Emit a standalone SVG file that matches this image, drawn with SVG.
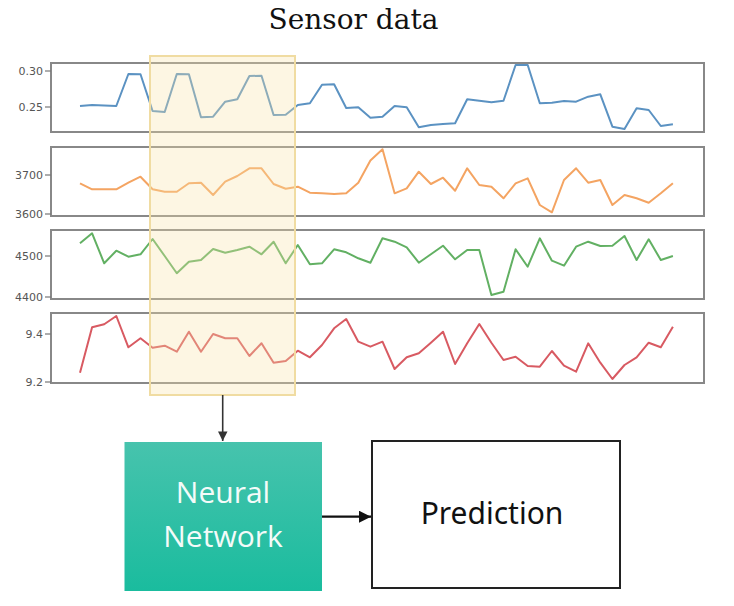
<svg xmlns="http://www.w3.org/2000/svg" width="734" height="606" viewBox="0 0 734 606">
<defs>
<style>
.frame{fill:none;stroke:#888;stroke-width:2}
.tick{stroke:#777;stroke-width:1.2}
.tl{font-family:"DejaVu Sans",sans-serif;font-size:11px;fill:#555;text-anchor:end}
.ser{fill:none;stroke-width:2;stroke-linejoin:round}
.conn{stroke:#111;stroke-width:2.2;fill:none}
</style>
<linearGradient id="teal" x1="0" y1="0" x2="0" y2="1">
<stop offset="0" stop-color="#47c3ad"/>
<stop offset="1" stop-color="#1abc9e"/>
</linearGradient>
<marker id="ah" viewBox="0 0 10 10" refX="10" refY="5" markerWidth="5.5" markerHeight="5.5" orient="auto" markerUnits="strokeWidth">
<path d="M0,0 L10,5 L0,10 z" fill="#111"/>
</marker>
<marker id="ah2" viewBox="0 0 10 10" refX="10" refY="5" markerWidth="6" markerHeight="6" orient="auto" markerUnits="strokeWidth">
<path d="M0,0 L10,5 L0,10 z" fill="#333"/>
</marker>
</defs>
<rect width="734" height="606" fill="#fff"/>
<text x="353.5" y="29" font-family="'DejaVu Serif',serif" font-size="28" text-anchor="middle" fill="#111">Sensor data</text>
<g id="chart">
<rect class="frame" x="51" y="63" width="653" height="69"/>
<rect class="frame" x="51" y="147" width="653" height="69"/>
<rect class="frame" x="51" y="230" width="653" height="69"/>
<rect class="frame" x="51" y="313" width="653" height="70"/>
<g>
<line class="tick" x1="45" y1="71" x2="51" y2="71"/><text class="tl" x="43" y="75">0.30</text>
<line class="tick" x1="45" y1="107" x2="51" y2="107"/><text class="tl" x="43" y="111">0.25</text>
<line class="tick" x1="45" y1="175" x2="51" y2="175"/><text class="tl" x="43" y="179">3700</text>
<line class="tick" x1="45" y1="214" x2="51" y2="214"/><text class="tl" x="43" y="218">3600</text>
<line class="tick" x1="45" y1="256" x2="51" y2="256"/><text class="tl" x="43" y="260">4500</text>
<line class="tick" x1="45" y1="297" x2="51" y2="297"/><text class="tl" x="43" y="301">4400</text>
<line class="tick" x1="45" y1="334" x2="51" y2="334"/><text class="tl" x="43" y="338">9.4</text>
<line class="tick" x1="45" y1="382" x2="51" y2="382"/><text class="tl" x="43" y="386">9.2</text>
</g>
<polyline class="ser" stroke="#5b92c2" points="80,106 92.1,105 104.2,105.5 116.3,106 128.4,74 140.5,74.3 152.6,111 164.7,112 176.8,74 188.9,74.3 201,117.3 213.1,116.7 225.2,101.7 237.3,99.3 249.4,76 261.5,75.7 273.6,115 285.7,114.7 297.8,105 309.9,103.3 322,84.7 334.1,84.3 346.2,108 358.3,107.3 370.4,117.7 382.5,116.7 394.6,106 406.7,107.3 418.8,127.3 430.9,125 443,124 455.1,123.3 467.2,99.3 479.3,100.7 491.4,102.3 503.5,100.7 515.6,65 527.7,65 539.8,103.3 551.9,102.7 564,101 576.1,101.7 588.2,96.7 600.3,94.3 612.4,126.7 624.5,129 636.6,108.3 648.7,110 660.8,126 672.9,124.3"/>
<polyline class="ser" stroke="#f4a462" points="80,183.3 92.1,189.3 104.2,189.3 116.3,189.3 128.4,182.7 140.5,176.7 152.6,189.3 164.7,191.7 176.8,191.7 188.9,183.3 201,182.7 213.1,195 225.2,181.7 237.3,176 249.4,168.3 261.5,168.3 273.6,184 285.7,188.7 297.8,186.7 309.9,192.7 322,193.3 334.1,194 346.2,193.3 358.3,182.7 370.4,160.5 382.5,149.3 394.6,193.3 406.7,188.3 418.8,171.7 430.9,184 443,177.7 455.1,190.7 467.2,168.3 479.3,185 491.4,186.7 503.5,198.3 515.6,183.3 527.7,178.3 539.8,205 551.9,212.3 564,180 576.1,168.3 588.2,182.7 600.3,180 612.4,205 624.5,195 636.6,198.3 648.7,202.7 660.8,193.3 672.9,183.3"/>
<polyline class="ser" stroke="#62b063" points="80,243.3 92.1,233.3 104.2,263.3 116.3,250.7 128.4,256.7 140.5,254.3 152.6,239 164.7,256 176.8,273.3 188.9,261.7 201,260 213.1,249 225.2,252.7 237.3,250 249.4,246.7 261.5,254.3 273.6,241.7 285.7,263.3 297.8,245 309.9,264.3 322,263.3 334.1,249.3 346.2,252.3 358.3,258.3 370.4,262.7 382.5,238.3 394.6,241.7 406.7,247.3 418.8,262.7 430.9,254.3 443,245.7 455.1,259.3 467.2,250 479.3,250 491.4,295 503.5,291.7 515.6,249.3 527.7,266.7 539.8,238.3 551.9,260.7 564,265.7 576.1,246.7 588.2,241.7 600.3,246 612.4,245.7 624.5,236 636.6,260 648.7,239.3 660.8,260 672.9,256"/>
<polyline class="ser" stroke="#d85a62" points="80,372.7 92.1,327.3 104.2,324.3 116.3,316 128.4,347.3 140.5,338.3 152.6,347.7 164.7,345.7 176.8,351.7 188.9,331.7 201,351.7 213.1,334 225.2,338.3 237.3,338.3 249.4,356 261.5,343.3 273.6,362.7 285.7,361 297.8,350.7 309.9,357.3 322,345 334.1,328.3 346.2,319 358.3,341.7 370.4,346.7 382.5,341.7 394.6,369 406.7,357.3 418.8,353.3 430.9,342.7 443,331.7 455.1,364 467.2,343.3 479.3,324 491.4,342.7 503.5,360 515.6,356.7 527.7,366 539.8,366.7 551.9,351 564,365.7 576.1,371.7 588.2,343.3 600.3,362.7 612.4,379 624.5,365 636.6,357.3 648.7,342.7 660.8,347.3 672.9,326.7"/>
</g>
<g id="window">
<rect x="150" y="56" width="145" height="339" fill="#f9e4a8" fill-opacity="0.32" stroke="#f0dca2" stroke-width="2"/>
</g>
<g id="neural-network">
<rect x="124.5" y="442" width="197.5" height="149" fill="url(#teal)"/>
<text x="223" y="503" font-family="'Open Sans',sans-serif" font-size="30" fill="#f4fbf9" text-anchor="middle">Neural</text>
<text x="223" y="547" font-family="'Open Sans',sans-serif" font-size="30" fill="#f4fbf9" text-anchor="middle">Network</text>
</g>
<g id="prediction">
<rect x="372" y="441" width="248" height="147" fill="#fff" stroke="#222" stroke-width="2"/>
<text x="492" y="524" font-family="'Noto Sans',sans-serif" font-size="30" fill="#111" text-anchor="middle">Prediction</text>
</g>
<g id="connectors">
<line x1="222.7" y1="395" x2="222.7" y2="441" stroke="#333" stroke-width="1.6" marker-end="url(#ah2)"/>
<line class="conn" x1="322" y1="516.7" x2="371" y2="516.7" marker-end="url(#ah)"/>
</g>
</svg>
